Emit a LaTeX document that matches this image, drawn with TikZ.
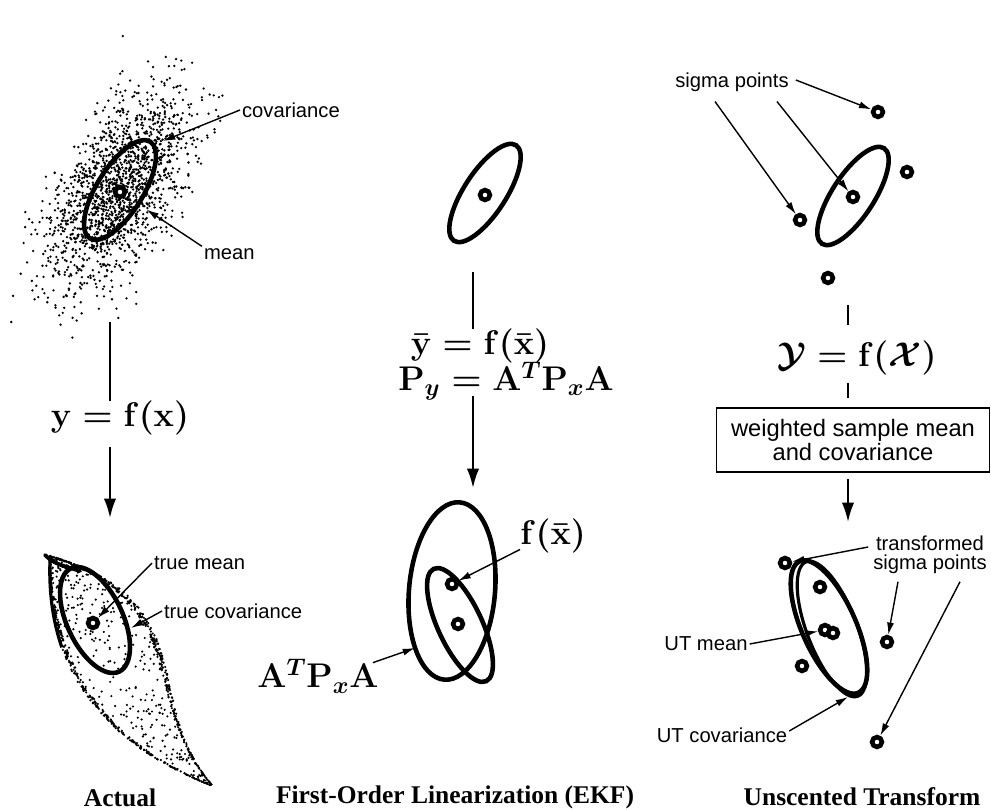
\RequirePackage{fix-cm}
\documentclass[tikz,border=0pt]{standalone}
\usepackage[no-math]{fontspec}
\setmainfont{Liberation Serif}
\newfontfamily\lblfont{Liberation Sans}
\usetikzlibrary{arrows.meta, positioning, calc}

\begin{document}
\begin{tikzpicture}[
    x=0.02cm, y=-0.02cm,
    ell/.style={line width=2.6pt},
    sigpt/.style={circle, draw, fill=white, line width=2.6pt, minimum size=5.6pt, inner sep=0pt,
        path picture={\fill (path picture bounding box.center) circle (0.8pt);}},
    lbl/.style={font=\lblfont\fontsize{11.5}{10.5}\selectfont, inner sep=1pt},
    eqn/.style={font=\fontsize{19.5}{21}\selectfont\boldmath, inner sep=0pt},
    ttl/.style={font=\bfseries\fontsize{14.5}{16}\selectfont},
    ptr/.style={-{Latex[length=7pt, width=4pt]}, line width=0.8pt},
    flow/.style={-{Latex[length=11pt, width=7pt]}, line width=1.2pt},
    tick/.style={line width=1.2pt}
]
\useasboundingbox (0,0) rectangle (991,810);

% Actual: sample cloud
\pgfmathsetseed{42}
\foreach \i in {1,...,1700}{
  \pgfmathsetmacro\ua{55*(rnd+rnd+rnd+rnd-2)*1.73}
  \pgfmathsetmacro\va{27*(rnd+rnd+rnd+rnd-2)*1.73}
  \pgfmathsetmacro\px{117+0.5*\ua+0.866*\va}
  \pgfmathsetmacro\py{190-0.866*\ua+0.5*\va}
  \fill (\px,\py) circle (1.3);
}
\draw[ell, rotate around={58:(120,190)}] (120,190) ellipse [x radius=57, y radius=23];
\node[sigpt] (mean0) at (120,192) {};
\node[lbl, anchor=west] (covlbl) at (240,110) {covariance};
\coordinate (cov0) at (163,141);
\draw[ptr] (covlbl.west) -- (cov0);
\node[lbl, anchor=west] (meanlbl) at (202,254) {mean};
\draw[ptr, shorten >=14pt] (meanlbl.north west) -- (mean0);

\coordinate (top0) at (110,322);
\node[eqn] (eq0) at (120,418) {$\mathbf{y}=\mathbf{f}(\mathbf{x})$};
\draw[tick] (top0) -- (top0 |- eq0.north);
\coordinate (a0s) at (110,447);
\coordinate (a0e) at (110,518);
\draw[flow] (a0s) -- (a0e);

% Actual: transformed samples
\foreach \i in {1,...,1100}{
  \pgfmathsetmacro\sa{rnd^1.4}
  \pgfmathsetmacro\tb{ifthenelse(mod(\i,3)==0, 0.05*rnd, ifthenelse(mod(\i,3)==1, 1-0.06*rnd, rnd))}
  \pgfmathsetmacro\lx{(1-\sa)^2*50+2*\sa*(1-\sa)*44+\sa^2*210}
  \pgfmathsetmacro\ly{(1-\sa)^2*560+2*\sa*(1-\sa)*720+\sa^2*785}
  \pgfmathsetmacro\rx{(1-\sa)^3*50+3*\sa*(1-\sa)^2*205+3*\sa^2*(1-\sa)*140+\sa^3*212}
  \pgfmathsetmacro\ry{(1-\sa)^3*556+3*\sa*(1-\sa)^2*600+3*\sa^2*(1-\sa)*700+\sa^3*785}
  \pgfmathsetmacro\px{\lx+\tb*(\rx-\lx)}
  \pgfmathsetmacro\py{\ly+\tb*(\ry-\ly)}
  \fill (\px,\py) circle (1.2);
}
\draw[line width=1.8pt] plot[domain=0:0.3, samples=20, variable=\q]
  ({(1-\q)^2*50+2*\q*(1-\q)*44+\q^2*210}, {(1-\q)^2*560+2*\q*(1-\q)*720+\q^2*785});
\draw[line width=2.2pt, line cap=round] (45,555) .. controls (55,565) and (65,566) .. (80,571);
\draw[ell, rotate around={115:(95,620)}] (95,620) ellipse [x radius=57, y radius=28];
\node[sigpt] (tmean) at (93,623) {};
\node[lbl, anchor=west] (tmlbl) at (152,563) {true mean};
\draw[ptr] (tmlbl.west) -- (tmean);
\node[lbl, anchor=west] (tclbl) at (162,611) {true covariance};
\coordinate (tcov) at (131,628);
\draw[ptr] (tclbl.west) -- (tcov);
\node[ttl] (t0) at (120,798) {Actual};

% First-order linearization
\draw[ell, rotate around={57:(485,193)}] (485,193) ellipse [x radius=57, y radius=21];
\node[sigpt] (mean1) at (485,195) {};
\coordinate (top1) at (473,272);
\node[eqn] (eq1a) at (480,346) {$\bar{\mathbf{y}}=\mathbf{f}(\bar{\mathbf{x}})$};
\node[eqn] (eq1b) at (506,381) {$\mathbf{P}_y=\mathbf{A}^T\mathbf{P}_x\mathbf{A}$};
\draw[tick] (top1) -- (top1 |- eq1a.north);
\coordinate (a1s) at (473,396);
\coordinate (a1e) at (473,488);
\draw[flow] (a1s) -- (a1e);
\draw[ell, rotate around={85:(452,591)}] (452,591) ellipse [x radius=89, y radius=43];
\draw[ell, rotate around={115:(460,625)}] (460,625) ellipse [x radius=62, y radius=22];
\node[sigpt] (fx) at (452,584) {};
\node[sigpt] (mx) at (458,624) {};
\node[eqn, anchor=west] (fxlbl) at (520,536) {$\mathbf{f}(\bar{\mathbf{x}})$};
\draw[ptr] ($(fxlbl.south west)+(0,-4)$) -- (fx);
\node[eqn] (aplbl) at (318,676) {$\mathbf{A}^T\mathbf{P}_x\mathbf{A}$};
\coordinate (apcov) at (415,648);
\draw[ptr] ($(aplbl.north east)+(-6,4)$) -- (apcov);
\node[ttl] (t1) at (455,797) {First-Order Linearization (EKF)};

% Unscented transform
\node[lbl] (siglbl) at (732,82) {sigma points};
\draw[ell, rotate around={57:(853,196)}] (853,196) ellipse [x radius=57, y radius=21];
\node[sigpt] (s0) at (853,197) {};
\node[sigpt] (s1) at (878,112) {};
\node[sigpt] (s2) at (907,172) {};
\node[sigpt] (s3) at (800,220) {};
\node[sigpt] (s4) at (828,278) {};
\draw[ptr] ($(siglbl.east)+(5,-2)$) -- (s1);
\draw[ptr] ($(siglbl.south)+(45,8)$) -- (s0);
\draw[ptr] ($(siglbl.south)+(-17,8)$) -- (s3);

\coordinate (tk2a) at (848,305);
\coordinate (tk2b) at (848,325);
\draw[tick] (tk2a) -- (tk2b);
\node[eqn] (eq2) at (857,358) {$\mathcal{Y}=\mathbf{f}(\mathcal{X})$};
\coordinate (tk2c) at (848,383);
\coordinate (tk2d) at (848,398);
\draw[tick] (tk2c) -- (tk2d);
\node[draw, line width=0.8pt, minimum width=5.46cm, minimum height=1.28cm, align=center,
  font=\lblfont\fontsize{13.5}{11.5}\selectfont] (wbox) at (853,440) {weighted sample mean\\and covariance};
\coordinate (a2s) at (848,479);
\coordinate (a2e) at (848,522);
\draw[flow] (a2s) -- (a2e);

\draw[ell, rotate around={114:(829,627)}] (829,627) ellipse [x radius=72, y radius=27];
\draw[line width=1.8pt, rotate around={111:(832,629)}] (832,629) ellipse [x radius=72, y radius=25];
\node[sigpt] (q1) at (785,563) {};
\node[sigpt] (q2) at (820,587) {};
\node[sigpt] (q0a) at (825,630) {};
\node[sigpt] (q0b) at (833,633) {};
\node[sigpt] (q3) at (802,666) {};
\node[sigpt] (q4) at (887,642) {};
\node[sigpt] (q5) at (877,742) {};
\node[lbl, align=center] (tslbl) at (930,555) {transformed\\sigma points};
\draw[ptr] ($(tslbl.west)+(-3,-8)$) -- (q1);
\draw[ptr] ($(tslbl.south)+(-32,6)$) -- (q4);
\draw[ptr] ($(tslbl.south)+(30,6)$) -- (q5);
\node[lbl] (utm) at (706,644) {UT mean};
\draw[ptr] (utm.east) -- (q0a);
\node[lbl] (utc) at (722,735) {UT covariance};
\coordinate (utcov) at (848,697);
\draw[ptr] ($(utc.east)+(0,-4)$) -- (utcov);
\node[ttl] (t2) at (862,797) {Unscented Transform};
\end{tikzpicture}
\end{document}
